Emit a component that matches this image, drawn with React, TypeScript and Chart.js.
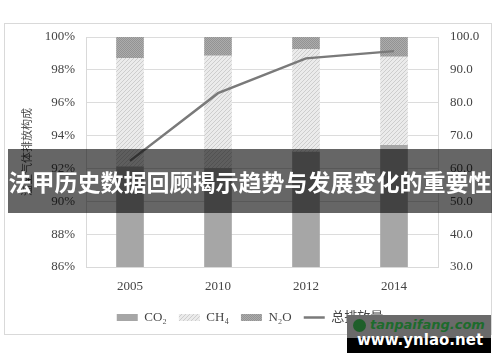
import React, { useEffect, useRef } from "react";
import { Chart, registerables } from "chart.js";

Chart.register(...registerables);

const years = ["2005", "2010", "2012", "2014"];
const co2 = [92.1, 92.0, 93.0, 93.4];
const ch4 = [6.6, 6.85, 6.25, 5.4];
const n2o = [1.3, 1.15, 0.75, 1.2];
const total = [62.3, 82.9, 93.5, 95.7];
const seriesNames = ["CO₂", "CH₄", "N₂O", "总排放量"];
const leftAxisTitle = "温室气体排放构成";
const bannerText = "法甲历史数据回顾揭示趋势与发展变化的重要性";
const watermarkTop = "tanpaifang.com";
const watermarkBottom = "www.ynlao.net";

function makeHatch(ctx: CanvasRenderingContext2D): CanvasPattern | string {
  const c = document.createElement("canvas");
  c.width = 4;
  c.height = 4;
  const g = c.getContext("2d");
  if (!g) return "#dcdcdc";
  g.fillStyle = "#ebebeb";
  g.fillRect(0, 0, 4, 4);
  g.strokeStyle = "#cdcdcd";
  g.lineWidth = 1;
  g.beginPath();
  g.moveTo(0, 4);
  g.lineTo(4, 0);
  g.moveTo(-1, 1);
  g.lineTo(1, -1);
  g.moveTo(3, 5);
  g.lineTo(5, 3);
  g.stroke();
  return ctx.createPattern(c, "repeat") || "#dcdcdc";
}

function makeDots(ctx: CanvasRenderingContext2D): CanvasPattern | string {
  const c = document.createElement("canvas");
  c.width = 2;
  c.height = 2;
  const g = c.getContext("2d");
  if (!g) return "#a0a0a0";
  g.fillStyle = "#acacac";
  g.fillRect(0, 0, 2, 2);
  g.fillStyle = "#939393";
  g.fillRect(0, 0, 1, 1);
  g.fillRect(1, 1, 1, 1);
  return ctx.createPattern(c, "repeat") || "#a0a0a0";
}

const serif = "'Liberation Serif', 'Times New Roman', 'Noto Sans CJK SC', serif";

export default function App() {
  const ref = useRef<HTMLCanvasElement | null>(null);

  useEffect(() => {
    const canvas = ref.current;
    if (!canvas) return;
    const ctx = canvas.getContext("2d");
    if (!ctx) return;
    const hatch = makeHatch(ctx);
    const dots = makeDots(ctx);

    const chart = new Chart(canvas, {
      type: "bar",
      data: {
        labels: years,
        datasets: [
          {
            type: "bar",
            label: seriesNames[0],
            data: co2,
            backgroundColor: "#a6a6a6",
            borderWidth: 0,
            pointStyle: "rect",
            yAxisID: "y",
            barThickness: 27,
          } as any,
          {
            type: "bar",
            label: seriesNames[1],
            data: ch4,
            backgroundColor: hatch,
            borderWidth: 0,
            pointStyle: "rect",
            yAxisID: "y",
            barThickness: 27,
          } as any,
          {
            type: "bar",
            label: seriesNames[2],
            data: n2o,
            backgroundColor: dots,
            borderWidth: 0,
            pointStyle: "rect",
            yAxisID: "y",
            barThickness: 27,
          } as any,
          {
            type: "line",
            label: seriesNames[3],
            data: total,
            borderColor: "#7a7a7a",
            backgroundColor: "#7a7a7a",
            borderWidth: 2.5,
            pointRadius: 0,
            pointStyle: "line",
            yAxisID: "y1",
            tension: 0,
            order: -1,
          } as any,
        ],
      },
      options: {
        animation: false,
        responsive: false,
        maintainAspectRatio: false,
        layout: { padding: { top: 37, bottom: 28, left: 0, right: 0 } },
        plugins: {
          tooltip: { enabled: false },
          legend: {
            position: "bottom",
            labels: {
              usePointStyle: true,
              pointStyleWidth: 21,
              boxHeight: 7,
              padding: 12,
              color: "#444",
              font: { family: serif, size: 13 },
              sort: (a: any, b: any) => a.datasetIndex - b.datasetIndex,
            },
          },
        },
        scales: {
          x: {
            stacked: true,
            grid: { display: false, drawTicks: false },
            border: { display: true, color: "#d9d9d9" },
            ticks: { color: "#444", padding: 12, font: { family: serif, size: 13 } },
            afterFit: (s: any) => {
              s.height = 32;
            },
          },
          y: {
            stacked: true,
            position: "left",
            min: 86,
            max: 100,
            grid: { color: "#dcdcdc", drawTicks: false },
            border: { display: true, color: "#d9d9d9" },
            ticks: {
              stepSize: 2,
              padding: 11,
              color: "#444",
              font: { family: serif, size: 13 },
              callback: (v: any) => `${v}%`,
            },
            title: {
              display: true,
              text: leftAxisTitle,
              color: "#4a4a4a",
              font: { family: serif, size: 11 },
              padding: { top: 22, bottom: 0 },
            },
            afterFit: (s: any) => {
              s.width = 86;
            },
          },
          y1: {
            position: "right",
            min: 30,
            max: 100,
            grid: { drawOnChartArea: false, drawTicks: false },
            border: { display: true, color: "#d9d9d9" },
            ticks: {
              stepSize: 10,
              padding: 12,
              color: "#444",
              font: { family: serif, size: 13 },
              callback: (v: any) => Number(v).toFixed(1),
            },
            afterFit: (s: any) => {
              s.width = 62;
            },
          },
        },
      } as any,
    });
    return () => chart.destroy();
  }, []);

  return (
    <div
      style={{
        position: "absolute",
        left: 0,
        top: 0,
        width: 500,
        height: 362,
        background: "#fff",
        overflow: "hidden",
      }}
    >
      <div
        style={{
          position: "absolute",
          left: 4,
          top: 23,
          width: 488,
          height: 312,
          border: "1px solid #d9d9d9",
          boxSizing: "border-box",
        }}
      />
      <canvas
        ref={ref}
        width={500}
        height={362}
        style={{ position: "absolute", left: 0, top: 0, width: 500, height: 362 }}
      />
      <div
        style={{
          position: "absolute",
          left: 8,
          top: 149,
          width: 484,
          height: 64,
          background: "rgba(0,0,0,0.6)",
          color: "#fff",
          fontFamily: "'Noto Sans CJK SC', sans-serif",
          fontWeight: 700,
          fontSize: 23,
          lineHeight: "64px",
          textAlign: "center",
          whiteSpace: "nowrap",
        }}
      >
        {bannerText}
      </div>
      <div
        style={{
          position: "absolute",
          left: 347,
          top: 315,
          width: 144,
          height: 38,
          background: "linear-gradient(#6a6a6a 0, #6a6a6a 23px, #000 23px, #000 100%)",
          fontFamily: "'DejaVu Sans', sans-serif",
          fontWeight: 700,
          overflow: "hidden",
        }}
      >
        <div
          style={{
            position: "absolute",
            left: 6,
            top: 4,
            width: 13,
            height: 13,
            borderRadius: 7,
            background: "#1f5f2a",
          }}
        />
        <div
          style={{
            position: "absolute",
            left: 23,
            top: 2,
            fontSize: 13,
            fontStyle: "italic",
            color: "#1d6b2c",
            whiteSpace: "nowrap",
          }}
        >
          {watermarkTop}
        </div>
        <div
          style={{
            position: "absolute",
            left: 10,
            top: 16,
            fontSize: 15,
            color: "#fff",
            whiteSpace: "nowrap",
          }}
        >
          {watermarkBottom}
        </div>
      </div>
    </div>
  );
}
